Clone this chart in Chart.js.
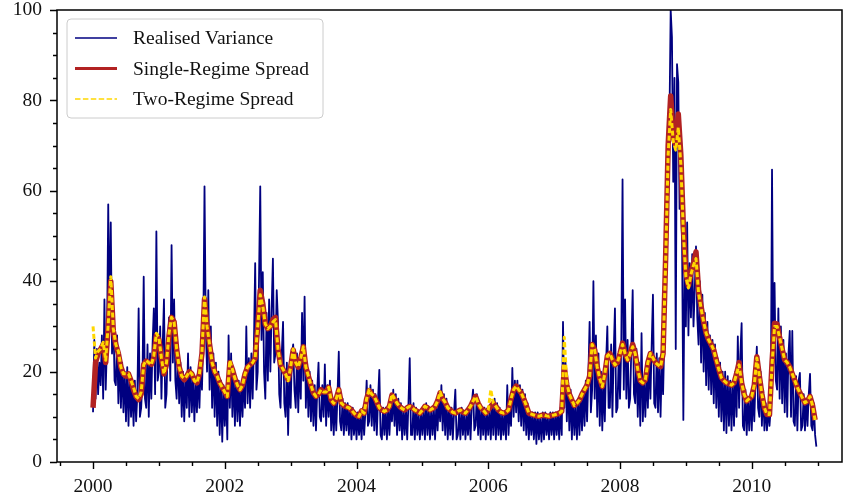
<!DOCTYPE html>
<html>
<head>
<meta charset="utf-8">
<script src="https://cdn.jsdelivr.net/npm/chart.js@4.4.1/dist/chart.umd.min.js"></script>
<style>
  html, body { margin: 0; padding: 0; background: #fff; }
  canvas { display: block; }
</style>
</head>
<body>
<canvas id="chart" width="843" height="497"></canvas>
<script>
// Sampling of the series: weekly realised variance, fortnightly spreads.
const START_YEAR = 2000;
const WEEKS_PER_YEAR = 52;
const FORTNIGHTS_PER_YEAR = 26;

const seriesNames = ['Realised Variance', 'Single-Regime Spread', 'Two-Regime Spread'];
const xTickLabels = ['2000', '2002', '2004', '2006', '2008', '2010'];
const yTickLabels = ['0', '20', '40', '60', '80', '100'];

// Realised variance, one value per week (one row per year).
const realisedVariance = [
  11,27, 14,25, 15,22, 17,28, 14,36, 16,26, 57,30, 53,24, 33,18, 17,28, 13,24, 12,22, 11,20, 9,21, 8,19, 10,17, 8,18, 9,15, 34,10, 12,18, 41,14, 12,26, 10,24, 14,26, 34,15, 51,18,
  20,30, 14,26, 36,12, 15,26, 32,18, 48,22, 36,18, 14,25, 13,22, 10,20, 9,19, 12,24, 10,21, 11,19, 9,18, 11,20, 12,22, 16,28, 61,30, 20,38, 16,30, 12,24, 10,22, 8,20, 6,18, 4.5,17,
  8,16, 5,28, 12,24, 10,20, 8,19, 9,18, 8,17, 10,19, 12,30, 13,23, 12,24, 14,26, 44,16, 20,40, 61,27, 42,20, 14,33, 18,36, 20,34, 45,22, 24,38, 31,15, 12,24, 31,13, 10,22, 6,20,
  12,24, 26,16, 12,24, 11,23, 14,33, 18,36.6, 12,22, 10,20, 9,18, 8,17, 7,16, 22,10, 9,17, 10,21.6, 8,17, 10,18, 7,14, 6,14, 7,15, 24.4,9, 7,14, 6,13, 7,13, 6,12, 5,12, 6,11,
  5,11, 6,10, 5,12, 6,11, 18,8, 9,17, 8,16, 7,15, 6,14, 20.4,6, 5,12, 6,12, 5,12, 6,13, 9,16, 8,15, 6,14, 7,13, 5,12, 6,12, 5,13, 23,6, 6,13, 5,12, 6,11, 5,11,
  6,12, 5,13, 6,12, 5,12, 6,12, 5,13, 7,14, 9,17, 7,15, 6,14, 5,12, 6,12, 5,11, 16,5, 6,11, 5,12, 6,11, 5,11, 6,12, 5,13, 16,7, 8,15, 6,13, 5,12, 6,12, 5,11,
  6,12, 5,13, 6,14, 5,13, 6,12, 5,11, 6,11, 5,17, 6,12, 8,20.8, 10,18, 11,18, 9,17, 8,16, 7,15, 6,13, 5,11, 6,11, 5,11, 4,11, 5,10, 4.5,11, 5,11, 6,10, 5,11, 6,11,
  5,11, 6,11, 5,12, 6,31, 12,22, 9,18, 7,16, 5,14, 6,13, 5,14, 6,15, 7,16, 8,18, 9,19, 31,11, 16,40, 14,28, 10,24, 8,20, 7,18, 9,22, 30,12, 12,26, 10,24, 34,11, 12,24,
  14,26, 62.5,16, 36,14, 27,12, 14,26, 38,15, 13,25, 10,22, 8,28.5, 9,18, 10,20, 12,24, 14,26, 37,13, 12,24, 11,23, 10,22, 15,28, 42,65, 58,75, 100,94, 62,85, 25,88, 84,56, 60,48, 9.3,45,
  30,53, 28,44, 32,46, 30,38, 47.7,32, 26,40, 22,37, 20,33, 17,31, 16,28, 15,27, 13,26, 12,23, 10,22, 9,20, 7,20, 6.4,19, 8,18, 7,18, 8,20, 10,27.8, 12,24, 30.7,8, 7,16, 6,14, 7,15,
  7,16, 9,19, 25.5,12, 10,20, 8,16, 7,13, 7,12, 8,12, 64.7,22, 39.6,18, 16,34, 14,30, 13,27, 11,24, 10,24, 29,10, 29,9, 8,19, 7,18, 19.7,7, 8,15, 7,14, 8,15, 19.5,8, 7,13, 6,3.4
];

// Single-regime spread, one value per fortnight (one row per year).
const singleRegimeSpread = [
  12,22,24,25,26,22,30,40,29,26,24,21,19.5,19,19.5,18,16,14.5,13.8,15,21.6,22.3,22,21.6,23,28,
  27,23,19.5,21.6,28,32,31,25,21,19,18.2,19,20,19.5,18.2,17.5,19.5,24,36,30,26,22,20,19,17.5,16.5,
  15.5,14.5,22,20.5,18.5,17,16,17,19.5,21,21.5,22,23,30,38,35,30.5,29.5,30,31.5,32,25,21.5,20.5,19.5,18.2,
  21,24.8,22,21,23,25.5,21,19,17,15.3,14.5,15,16,15.5,15.5,16.5,13.7,13,14,16,13,12.5,12.2,12,11.5,10.8,
  10.3,10.1,11.3,10.8,14,15.8,15,14.5,13.3,12,11.5,11.2,11.5,12.3,14.8,14,13,12.3,11.8,11.5,12,12.3,12,11.5,11.2,10.8,
  11.5,12.3,12,11.5,11.8,12.3,13.5,15.3,14,13.2,12,11.5,11,10.8,11.2,11.5,11,10.8,11.5,12.3,13.5,14.5,13,12,11.5,10.8,
  11.5,12.3,13,12.3,11.5,11,10.8,11,11.5,14,16,16.8,16,15.3,14,12.5,10.8,10.6,10.4,10.2,10.1,10.3,10.4,10.2,10.1,10.3,
  10.4,10.6,10.8,11.2,21,17,15,13.7,12.5,13,13.7,15,16,17,19,26,24.8,21,18.5,16.7,19.5,23.5,24,22.6,21.5,22,
  24,26.3,24,22.6,24,26,24,20.5,18,17.5,18.2,22,24,23,22,21.5,21.1,24,45,70,81,72,70,77,68,52,
  42,39,42,44,46.5,38,34.5,31,28.5,27,26,24.8,22.5,20.5,18.7,18,17.5,17.3,17,17.5,19.5,22,17.5,15,13.5,14,
  14.5,17,23.3,19,15,12,10.5,10.5,22,30.7,30.5,27.5,25,22.6,22,21,19.5,18,16.5,15.3,14.2,13.1,13.5,14.5,12.5,9.3
];

// Two-regime spread, one value per fortnight (one row per year).
const twoRegimeSpread = [
  30,23,24.5,25,26.5,22.5,30.5,41,29.5,26,24.5,21,19.5,19.5,19.5,18,16.5,14.5,14,15.5,21.5,22.5,22,21.5,23.5,28.5,
  27.5,23,19.5,22,28.5,32,31,25,21,19,18.5,19,20,19.5,18,17.5,19.5,24.5,36.5,30,26,22,20,19,17.5,16.5,
  15.5,14.5,22.5,20.5,18.5,17,16,17,19.5,21,21.5,22,23,30,37,34.5,30.5,29.5,30,31,31.5,25,21.5,20.5,19.5,18,
  21,25,22,21,23,25.5,21,19,17,15.3,14.5,15,16,15.5,15.5,16.5,13.7,13,14,16,13,12.5,12.2,12,11.5,10.8,
  10.3,10.1,11.3,10.8,14,16,15,14.5,13.3,12,11.5,11.2,11.5,12.3,15,14,13,12.3,11.8,11.5,12,12.3,12,11.5,11.2,10.8,
  11.5,12.3,12,11.5,11.8,12.3,13.5,15.5,14,13.2,12,11.5,11,10.8,11.2,11.5,11,10.8,11.5,12.3,13.5,14.5,13,12,11.5,10.8,
  11.5,16,13,12.3,11.5,11,10.8,11,11.5,14,16,16.8,16,15.3,14,12.5,10.8,10.6,10.4,10.2,10.1,10.3,10.4,10.2,10.1,10.3,
  10.4,10.6,10.8,11.2,27.6,17.5,15,13.7,12.5,13,13.7,15,16,17,19,26,24.8,21,18.5,16.7,19.5,23.5,24,22.6,21.5,22,
  24,26,24,22.6,24,25.5,24,20.5,18,17.5,18.2,22,24,23,22,21.5,21.1,24,44,68,78,71,69,74,66,51,
  41,38.5,41.5,43.5,45,37.5,34,31,28.5,27,26,24.8,22.5,20.5,18.7,18,17.5,17.3,17,17.5,19.5,21.5,17.5,15,13.5,14,
  14.5,17,23,19,15,12,10.5,10.5,21.5,30,30,27.5,25,22.6,22,21,19.5,18,16.5,15.3,14.2,13.1,13.5,14.5,12.5,9.3
];

const FONT_FAMILY = "'Liberation Serif', 'Times New Roman', serif";
const FONT_SIZE = 19.5;

const toPoints = (values, perYear) =>
  values.map((v, i) => ({ x: START_YEAR + i / perYear, y: v }));

// Styles of the line samples shown in the legend box.
const legendSamples = [
  { color: '#000080', width: 1.5, dash: [] },
  { color: '#b22222', width: 3, dash: [] },
  { color: '#ffd700', width: 1.5, dash: [5.5, 2.4] }
];

// Frame, major/minor tick marks and the legend box drawn over the plot.
const frameTicksLegend = {
  id: 'frameTicksLegend',
  afterDraw(chart) {
    const { ctx, chartArea: a, scales: { x, y } } = chart;
    ctx.save();

    ctx.strokeStyle = '#000';
    ctx.lineWidth = 1.5;
    ctx.strokeRect(a.left, a.top, a.right - a.left, a.bottom - a.top);

    const xMajor = xTickLabels.map(Number);
    const yMajor = yTickLabels.map(Number);
    ctx.lineWidth = 1.4;
    ctx.beginPath();
    for (let v = 1999.5; v <= 2011.001; v += 0.5) {
      const px = Math.round(x.getPixelForValue(v)) + 0.5;
      const len = xMajor.includes(v) ? 7 : 4;
      ctx.moveTo(px, a.bottom);
      ctx.lineTo(px, a.bottom + len);
    }
    for (let v = 0; v <= 100; v += 5) {
      const py = Math.round(y.getPixelForValue(v)) + 0.5;
      const len = yMajor.includes(v) ? 7 : 4;
      ctx.moveTo(a.left, py);
      ctx.lineTo(a.left - len, py);
    }
    ctx.stroke();

    // legend box
    const bx = 67, by = 19, bw = 256, bh = 99, r = 4;
    ctx.beginPath();
    ctx.moveTo(bx + r, by);
    ctx.lineTo(bx + bw - r, by);
    ctx.quadraticCurveTo(bx + bw, by, bx + bw, by + r);
    ctx.lineTo(bx + bw, by + bh - r);
    ctx.quadraticCurveTo(bx + bw, by + bh, bx + bw - r, by + bh);
    ctx.lineTo(bx + r, by + bh);
    ctx.quadraticCurveTo(bx, by + bh, bx, by + bh - r);
    ctx.lineTo(bx, by + r);
    ctx.quadraticCurveTo(bx, by, bx + r, by);
    ctx.closePath();
    ctx.fillStyle = 'rgba(255,255,255,0.85)';
    ctx.fill();
    ctx.strokeStyle = '#cccccc';
    ctx.lineWidth = 1;
    ctx.stroke();

    ctx.font = FONT_SIZE + 'px ' + FONT_FAMILY;
    ctx.textBaseline = 'middle';
    ctx.textAlign = 'left';
    const rowY = [38, 68.5, 99];
    chart.data.datasets.forEach((ds, i) => {
      const s = legendSamples[i];
      ctx.beginPath();
      ctx.strokeStyle = s.color;
      ctx.lineWidth = s.width;
      ctx.setLineDash(s.dash);
      ctx.moveTo(75, rowY[i]);
      ctx.lineTo(117, rowY[i]);
      ctx.stroke();
      ctx.setLineDash([]);
      ctx.fillStyle = '#111';
      ctx.fillText(ds.label, 133, rowY[i] + 1);
    });
    ctx.restore();
  }
};

Chart.defaults.font.family = FONT_FAMILY;
Chart.defaults.font.size = FONT_SIZE;
Chart.defaults.color = '#111';

new Chart(document.getElementById('chart'), {
  type: 'line',
  data: {
    datasets: [
      {
        label: seriesNames[0],
        data: toPoints(realisedVariance, WEEKS_PER_YEAR),
        borderColor: '#000080',
        borderWidth: 1.8,
        borderJoinStyle: 'round',
        pointRadius: 0,
        order: 3
      },
      {
        label: seriesNames[1],
        data: toPoints(singleRegimeSpread, FORTNIGHTS_PER_YEAR),
        borderColor: '#b22222',
        borderWidth: 5.5,
        borderJoinStyle: 'round',
        pointRadius: 0,
        order: 2
      },
      {
        label: seriesNames[2],
        data: toPoints(twoRegimeSpread, FORTNIGHTS_PER_YEAR),
        borderColor: '#ffd700',
        borderWidth: 3,
        borderDash: [5, 2.5],
        borderJoinStyle: 'round',
        pointRadius: 0,
        order: 1
      }
    ]
  },
  options: {
    responsive: false,
    animation: false,
    devicePixelRatio: 1,
    layout: { padding: { top: 10, right: 1, bottom: 0, left: 0 } },
    plugins: { legend: { display: false }, tooltip: { enabled: false } },
    scales: {
      x: {
        type: 'linear',
        min: 1999.453,
        max: 2011.37,
        grid: { display: false, drawTicks: false },
        border: { display: false },
        ticks: {
          padding: 13,
          maxRotation: 0,
          autoSkip: false,
          callback: (v, i) => xTickLabels[i]
        },
        afterBuildTicks: s => { s.ticks = xTickLabels.map(t => ({ value: Number(t) })); },
        afterFit: s => { s.height = 35; s.paddingLeft = 0; s.paddingRight = 0; }
      },
      y: {
        min: 0,
        max: 100,
        grid: { display: false, drawTicks: false },
        border: { display: false },
        ticks: {
          padding: 15,
          callback: (v, i) => yTickLabels[i]
        },
        afterBuildTicks: s => { s.ticks = yTickLabels.map(t => ({ value: Number(t) })); },
        afterFit: s => { s.width = 57; s.paddingTop = 0; s.paddingBottom = 0; }
      }
    }
  },
  plugins: [frameTicksLegend]
});
</script>
</body>
</html>
